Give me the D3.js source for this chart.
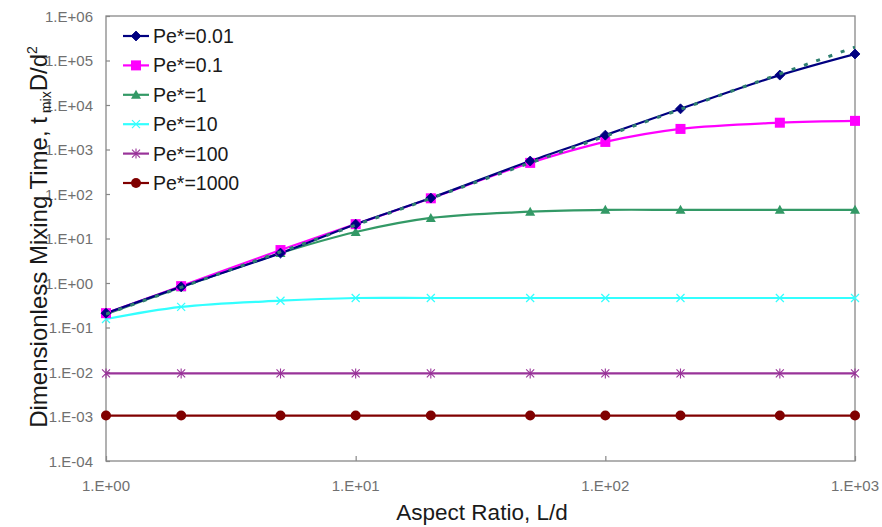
<!DOCTYPE html>
<html>
<head>
<meta charset="utf-8">
<script src="https://cdn.jsdelivr.net/npm/d3@7/dist/d3.min.js"></script>
<style>
  html, body { margin: 0; padding: 0; background: #fff; }
  svg { display: block; font-family: "Liberation Sans", Arial, sans-serif; }
</style>
</head>
<body>
<svg id="chart" width="882" height="527"></svg>
<script>
// Aspect ratio values (L/d)
const aspectRatios = [1, 2, 5, 10, 20, 50, 100, 200, 500, 1000];

// Dimensionless mixing time for each Pe*
const pe001  = [0.21, 0.82, 4.7, 21, 81, 550, 2100, 8200, 47000, 140000];
const pe01   = [0.21, 0.85, 5.5, 21, 80, 500, 1480, 2900, 4000, 4400];
const pe1    = [0.2, 0.8, 4.7, 14, 29, 40, 44, 44, 44, 44];
const pe10   = [0.155, 0.29, 0.40, 0.46, 0.46, 0.46, 0.46, 0.46, 0.46, 0.46];
const pe100  = [0.0093, 0.0093, 0.0093, 0.0093, 0.0093, 0.0093, 0.0093, 0.0093, 0.0093, 0.0093];
const pe1000 = [0.00105, 0.00105, 0.00105, 0.00105, 0.00105, 0.00105, 0.00105, 0.00105, 0.00105, 0.00105];

// Power-law guide t ~ L^2 (dotted)
const guideX = [1, 1000];
const guideY = [0.2, 200000];

const legendLabels = ["Pe*=0.01", "Pe*=0.1", "Pe*=1", "Pe*=10", "Pe*=100", "Pe*=1000"];
const xTickValues = [1, 10, 100, 1000];
const xTickLabels = ["1.E+00", "1.E+01", "1.E+02", "1.E+03"];
const yTickValues = [1e-4, 1e-3, 1e-2, 1e-1, 1, 10, 100, 1e3, 1e4, 1e5, 1e6];
const yTickLabels = ["1.E-04", "1.E-03", "1.E-02", "1.E-01", "1.E+00", "1.E+01",
                     "1.E+02", "1.E+03", "1.E+04", "1.E+05", "1.E+06"];

const seriesValues = [pe001, pe01, pe1, pe10, pe100, pe1000];
const colors  = ["#000080", "#ff00ff", "#339966", "#33ffff", "#993399", "#800000"];
const markers = ["diamond", "square", "triangle", "cross", "asterisk", "circle"];

const svg = d3.select("#chart");
const plot = { left: 106, right: 855, top: 16, bottom: 461 };

const x = d3.scaleLog().domain([1, 1000]).range([plot.left, plot.right]);
const y = d3.scaleLog().domain([1e-4, 1e6]).range([plot.bottom, plot.top]);

// Plot frame
svg.append("rect")
  .attr("x", plot.left).attr("y", plot.top)
  .attr("width", plot.right - plot.left).attr("height", plot.bottom - plot.top)
  .attr("fill", "none").attr("stroke", "#888").attr("stroke-width", 1.3);

// Axes: inward tick marks only; labels are placed from the same scales below
const xAxis = d3.axisBottom(x).tickValues(xTickValues).tickSize(-5).tickFormat("");
const gx = svg.append("g").attr("transform", `translate(0,${plot.bottom})`).call(xAxis);

const yAxis = d3.axisLeft(y).tickValues(yTickValues).tickSize(-4).tickFormat("");
const gy = svg.append("g").attr("transform", `translate(${plot.left},0)`).call(yAxis);

[gx, gy].forEach(g => {
  g.select(".domain").remove();
  g.selectAll(".tick line").attr("stroke", "#888").attr("stroke-width", 1.2);
  g.selectAll(".tick text").remove();
});

// Tick labels
svg.append("g").selectAll("text")
  .data(xTickValues)
  .join("text")
  .attr("x", d => x(d)).attr("y", 491)
  .attr("text-anchor", "middle")
  .attr("fill", "#707070")
  .style("font-size", "15px")
  .text((d, i) => xTickLabels[i]);

svg.append("g").selectAll("text")
  .data(yTickValues)
  .join("text")
  .attr("x", 93).attr("y", d => y(d) + 5.5)
  .attr("text-anchor", "end")
  .attr("fill", "#707070")
  .style("font-size", "15px")
  .text((d, i) => yTickLabels[i]);

// Axis titles
svg.append("text")
  .attr("x", 482).attr("y", 520)
  .attr("text-anchor", "middle").attr("fill", "#1a1a1a")
  .style("font-size", "22.5px")
  .text("Aspect Ratio, L/d");

const yTitle = svg.append("text")
  .attr("transform", "translate(47,237) rotate(-90)")
  .attr("text-anchor", "middle").attr("fill", "#1a1a1a")
  .style("font-size", "24px");
yTitle.append("tspan").text("Dimensionless Mixing Time, t");
yTitle.append("tspan").attr("dy", 4).style("font-size", "14px").text(" mix");
yTitle.append("tspan").attr("dy", -4).text("D/d");
yTitle.append("tspan").attr("dy", -10).style("font-size", "14px").text("2");

// Clip lines to the plot area
svg.append("clipPath").attr("id", "clip")
  .append("rect").attr("x", plot.left).attr("y", plot.top)
  .attr("width", plot.right - plot.left).attr("height", plot.bottom - plot.top);

const line = d3.line()
  .x(d => x(d[0])).y(d => y(d[1]))
  .curve(d3.curveCatmullRom.alpha(0.5));

// Marker drawing
function drawMarker(g, type, color, cx, cy) {
  switch (type) {
    case "diamond":
      g.append("path").attr("d", `M${cx},${cy-5}L${cx+5},${cy}L${cx},${cy+5}L${cx-5},${cy}Z`)
        .attr("fill", color).attr("stroke", color).attr("stroke-width", 0.8);
      break;
    case "square":
      g.append("rect").attr("x", cx - 5).attr("y", cy - 5).attr("width", 10).attr("height", 10)
        .attr("fill", color);
      break;
    case "triangle":
      g.append("path").attr("d", `M${cx},${cy-5}L${cx+5},${cy+4}L${cx-5},${cy+4}Z`)
        .attr("fill", color);
      break;
    case "cross":
      g.append("path").attr("d", `M${cx-4},${cy-4}L${cx+4},${cy+4}M${cx-4},${cy+4}L${cx+4},${cy-4}`)
        .attr("stroke", color).attr("stroke-width", 1.2).attr("fill", "none");
      break;
    case "asterisk":
      g.append("path").attr("d", `M${cx-4},${cy-4}L${cx+4},${cy+4}M${cx-4},${cy+4}L${cx+4},${cy-4}M${cx},${cy-5}L${cx},${cy+5}`)
        .attr("stroke", color).attr("stroke-width", 1.1).attr("fill", "none");
      break;
    case "circle":
      g.append("circle").attr("cx", cx).attr("cy", cy).attr("r", 5).attr("fill", color);
      break;
  }
}

const linesG = svg.append("g").attr("clip-path", "url(#clip)");
const markersG = svg.append("g");

// Draw from the bottom series upward so the navy curve sits on top
for (let s = seriesValues.length - 1; s >= 0; s--) {
  const pts = aspectRatios.map((a, i) => [a, seriesValues[s][i]]);
  linesG.append("path").datum(pts)
    .attr("d", line)
    .attr("fill", "none")
    .attr("stroke", colors[s])
    .attr("stroke-width", 2.2);
  const mg = markersG.append("g");
  pts.forEach(p => drawMarker(mg, markers[s], colors[s], x(p[0]), y(p[1])));
}

// Dotted L^2 guide
svg.append("path")
  .datum(guideX.map((a, i) => [a, guideY[i]]))
  .attr("d", d3.line().x(d => x(d[0])).y(d => y(d[1])))
  .attr("fill", "none")
  .attr("stroke", "#2f8070")
  .attr("stroke-width", 3)
  .attr("stroke-dasharray", "4,9")
  .attr("clip-path", "url(#clip)");

// Legend
const legend = svg.append("g");
legendLabels.forEach((lab, i) => {
  const ly = 36 + i * 29.4;
  legend.append("line")
    .attr("x1", 123).attr("x2", 149).attr("y1", ly).attr("y2", ly)
    .attr("stroke", colors[i]).attr("stroke-width", 2.2);
  drawMarker(legend, markers[i], colors[i], 136, ly);
  legend.append("text")
    .attr("x", 153).attr("y", ly + 7)
    .attr("fill", "#1a1a1a")
    .style("font-size", "19.5px")
    .text(lab);
});
</script>
</body>
</html>
